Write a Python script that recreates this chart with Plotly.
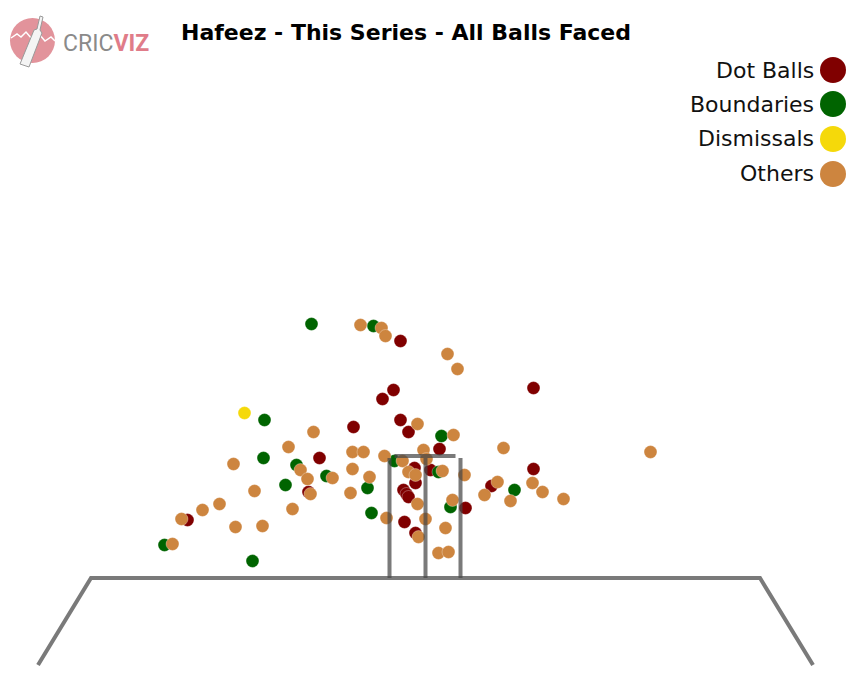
import plotly.graph_objects as go

# ---- data: position across the crease (x, relative to middle stump) and height above ground (y)
dot_x = [-238, -117, -106, -72, -25, -32, -43, -25, -17, 14, 108, -11, -10, 5, 108, 66, -22, -19, -17, 40, -21, -10]
dot_y = [58, 86, 120, 151, 237, 188, 179, 158, 146, 129, 190, 110, 95, 108, 109, 92, 88, 84, 81, 70, 56, 45]

bnd_x = [-114, -161, -162, -129, -99, -140, -261, -173, -52, 16, -31, 13, 89, -58, 25, -54]
bnd_y = [254, 158, 120, 113, 102, 93, 33, 17, 252, 142, 117, 106, 88, 90, 71, 65]

dis_x = [-181]
dis_y = [165]

oth_x = [-112, -137, -192, -125, -93, -118, -115, -171, -206, -223, -244, -133, -190, -163, -253,
         -65, -44, -40, 22, 32, -8, 28, 78, -73, -62, -41, -23, -2, 1, -73, -56, -17, -10, 17, 39,
         225, 107, 72, 59, 85, 117, 138, -75, -8, 27, -39, 0, 20, -7, 13, 23]
oth_y = [146, 131, 114, 108, 100, 99, 84, 87, 74, 68, 59, 69, 51, 52, 34,
         253, 250, 242, 224, 209, 154, 143, 130, 126, 126, 122, 117, 128, 119, 109, 101, 106, 103, 107, 103,
         126, 95, 96, 83, 77, 86, 79, 85, 74, 78, 60, 59, 50, 41, 25, 26]

categories = ["Dot Balls", "Boundaries", "Dismissals", "Others"]
colors = ["#800000", "#006400", "#F5D90A", "#CD853F"]

# stumps / pitch outline
stump_x = [-36, 0, 35]
stump_h = 120
bail_x = [-31, 30]
ground_x = [-334.5, 334.5]
edge_bottom_x = [-387.5, 387.5]
edge_bottom_y = -87

W, H = 850, 698

fig = go.Figure()
series = [(dot_x, dot_y), (bnd_x, bnd_y), (dis_x, dis_y), (oth_x, oth_y)]
for name, col, (xs, ys) in zip(categories, colors, series):
    fig.add_trace(go.Scatter(x=xs, y=ys, mode="markers", name=name, showlegend=False,
                             marker=dict(size=13, color=col, opacity=1,
                                         line=dict(width=0.6, color="rgba(255,255,255,0.5)")),
                             hoverinfo="skip"))

line_col = "rgba(70,70,70,0.72)"
# ground + edges
fig.add_trace(go.Scatter(x=[edge_bottom_x[0], ground_x[0], ground_x[1], edge_bottom_x[1]],
                         y=[edge_bottom_y, 0, 0, edge_bottom_y], mode="lines",
                         line=dict(color=line_col, width=4), showlegend=False, hoverinfo="skip"))
# stumps
for sx in stump_x:
    fig.add_trace(go.Scatter(x=[sx, sx], y=[0, stump_h], mode="lines",
                             line=dict(color=line_col, width=4), showlegend=False, hoverinfo="skip"))
fig.add_trace(go.Scatter(x=bail_x, y=[stump_h + 2, stump_h + 2], mode="lines",
                         line=dict(color=line_col, width=4), showlegend=False, hoverinfo="skip"))


def px(x):
    return x / W


def py(y):
    return 1 - y / H


shapes = []
annotations = []
# custom legend (symbol on the right of text)
leg_y = [70, 104, 139, 174]
for name, col, ly in zip(categories, colors, leg_y):
    r = 13
    shapes.append(dict(type="circle", xref="paper", yref="paper",
                       x0=px(833 - r), x1=px(833 + r), y0=py(ly + r), y1=py(ly - r),
                       fillcolor=col, line=dict(width=0)))
    annotations.append(dict(text=name, xref="paper", yref="paper", x=px(816), y=py(ly),
                            xanchor="right", yanchor="middle", showarrow=False,
                            font=dict(family="DejaVu Sans, Verdana, sans-serif", size=22, color="#111")))

# logo
shapes.append(dict(type="circle", xref="paper", yref="paper",
                   x0=px(10), x1=px(55), y0=py(63), y1=py(18),
                   fillcolor="#E2939B", line=dict(width=0)))
mount = [(11, 38), (17, 34), (21, 37), (26, 32), (32, 39), (39, 34), (45, 41), (51, 37), (55, 41)]
path = "M " + " L ".join(f"{px(a)},{py(b)}" for a, b in mount)
shapes.append(dict(type="path", xref="paper", yref="paper", path=path,
                   line=dict(color="white", width=1.5)))
bat = [(40, 16), (43, 17), (40, 30), (42, 33), (29, 67), (20, 64), (34, 30), (37, 29)]
path = "M " + " L ".join(f"{px(a)},{py(b)}" for a, b in bat) + " Z"
shapes.append(dict(type="path", xref="paper", yref="paper", path=path,
                   fillcolor="#f4f4f4", line=dict(color="#9a9a9a", width=1)))
annotations.append(dict(text="<span style='color:#8a8a8a'>CRIC</span><span style='color:#E07C89'><b>VIZ</b></span>",
                        xref="paper", yref="paper", x=px(61), y=py(44), xanchor="left", yanchor="middle",
                        showarrow=False,
                        font=dict(family="Liberation Sans Narrow, Roboto, sans-serif", size=23)))

fig.update_layout(
    width=W, height=H,
    margin=dict(l=0, r=0, t=0, b=0),
    paper_bgcolor="white", plot_bgcolor="white",
    title=dict(text="<b>Hafeez - This Series - All Balls Faced</b>", x=406 / W, xanchor="center",
               y=py(32), yanchor="middle",
               font=dict(family="DejaVu Sans, Verdana, sans-serif", size=22, color="#000")),
    xaxis=dict(range=[-425.5, 424.5], visible=False, fixedrange=True),
    yaxis=dict(range=[-120, 578], visible=False, fixedrange=True),
    shapes=shapes, annotations=annotations,
    showlegend=False,
)

fig.write_html("out.html", config={"displayModeBar": False},
               post_script="document.body.style.margin='0px';document.body.style.overflow='hidden';")
